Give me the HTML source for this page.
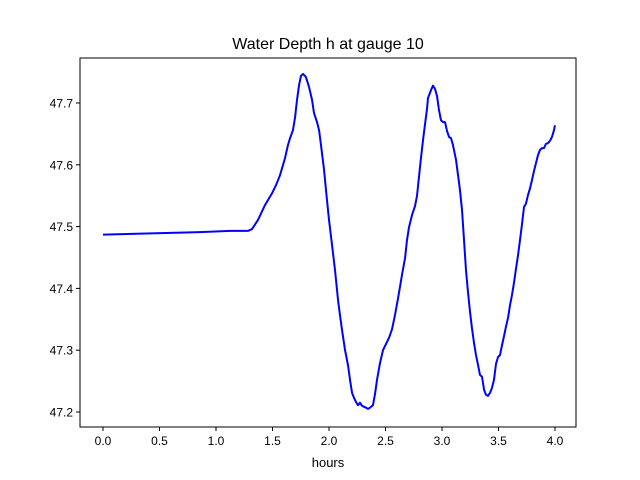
<!DOCTYPE html>
<html><head><meta charset="utf-8"><style>
body{margin:0;background:#fff}
svg{display:block;font-family:"Liberation Sans","DejaVu Sans",sans-serif}
</style></head><body>
<svg id="chart" width="640" height="480" viewBox="0 0 640 480">
<rect x="0" y="0" width="640" height="480" fill="#fff"/>
<text x="328" y="49" text-anchor="middle" font-size="16">Water Depth h at gauge 10</text>
<text x="328" y="467" text-anchor="middle" font-size="13">hours</text>
<g id="plot"></g>
</svg>
<script>
const hours=[0,0.858,1.124,1.283,1.319,1.372,1.434,1.496,1.531,1.566,1.611,1.637,1.655,1.681,1.699,1.717,1.735,1.752,1.770,1.796,1.823,1.850,1.867,1.894,1.912,1.929,1.956,1.982,2.000,2.027,2.053,2.080,2.097,2.115,2.142,2.168,2.186,2.204,2.221,2.239,2.257,2.274,2.292,2.327,2.345,2.363,2.389,2.407,2.425,2.451,2.478,2.504,2.531,2.558,2.584,2.611,2.646,2.673,2.690,2.708,2.735,2.761,2.779,2.796,2.814,2.832,2.850,2.867,2.876,2.903,2.920,2.938,2.956,2.973,2.991,3.009,3.027,3.044,3.062,3.080,3.097,3.124,3.142,3.159,3.177,3.195,3.212,3.230,3.248,3.265,3.283,3.301,3.319,3.336,3.354,3.372,3.389,3.407,3.425,3.442,3.460,3.478,3.496,3.513,3.531,3.549,3.566,3.584,3.602,3.619,3.637,3.655,3.673,3.690,3.708,3.726,3.743,3.761,3.779,3.796,3.814,3.832,3.850,3.867,3.885,3.903,3.920,3.938,3.956,3.973,3.991,4.0];
const depth=[47.487,47.491,47.493,47.493,47.496,47.511,47.535,47.554,47.567,47.583,47.611,47.632,47.643,47.656,47.676,47.705,47.729,47.744,47.747,47.742,47.726,47.705,47.684,47.669,47.656,47.632,47.592,47.543,47.511,47.470,47.430,47.381,47.357,47.333,47.300,47.276,47.252,47.231,47.223,47.216,47.211,47.215,47.210,47.207,47.205,47.207,47.211,47.229,47.252,47.279,47.300,47.310,47.320,47.334,47.357,47.384,47.422,47.449,47.478,47.499,47.519,47.533,47.550,47.580,47.611,47.640,47.666,47.690,47.708,47.721,47.728,47.723,47.711,47.689,47.672,47.669,47.669,47.655,47.645,47.643,47.632,47.608,47.583,47.559,47.527,47.478,47.430,47.394,47.362,47.336,47.312,47.292,47.276,47.260,47.257,47.236,47.228,47.226,47.231,47.239,47.252,47.278,47.289,47.292,47.308,47.323,47.338,47.352,47.373,47.389,47.409,47.432,47.454,47.478,47.504,47.532,47.537,47.551,47.562,47.575,47.590,47.603,47.616,47.624,47.627,47.627,47.634,47.635,47.639,47.645,47.656,47.664];
const xTicks=[0,0.5,1,1.5,2,2.5,3,3.5,4];
const xTickLabels=["0.0","0.5","1.0","1.5","2.0","2.5","3.0","3.5","4.0"];
const yTicks=[47.2,47.3,47.4,47.5,47.6,47.7];
const yTickLabels=["47.2","47.3","47.4","47.5","47.6","47.7"];

const L=80,R=576,T=58,B=427;
const X=v=>103+(v-0)*(452/4);
const Y=v=>412-(v-47.2)*(309/0.5);
const NS="http://www.w3.org/2000/svg";
const g=document.getElementById('plot');
function mk(tag,attrs){const e=document.createElementNS(NS,tag);for(const k in attrs)e.setAttribute(k,attrs[k]);g.appendChild(e);return e;}

let d='';
hours.forEach((h,i)=>{d+=(i?'L':'M')+X(h).toFixed(2)+','+Y(depth[i]).toFixed(2);});
const line=mk('path',{d:d,fill:'none',stroke:'#0000ff','stroke-width':2,'stroke-linejoin':'round'});



const frame=mk('rect',{x:L,y:T,width:R-L,height:B-T,fill:'none',stroke:'#000','stroke-width':1});



xTicks.forEach((t,i)=>{
  const x=X(t);
  const tk=mk('line',{x1:x,x2:x,y1:B,y2:B+4,stroke:'#000'});
  
  
  const lb=mk('text',{x:x,y:B+18,'text-anchor':'middle','font-size':12});
  lb.textContent=xTickLabels[i];
  
  
});
yTicks.forEach((t,i)=>{
  const y=Y(t);
  const tk=mk('line',{x1:L-4,x2:L,y1:y,y2:y,stroke:'#000'});
  
  
  const lb=mk('text',{x:L-7,y:y+4.5,'text-anchor':'end','font-size':12});
  lb.textContent=yTickLabels[i];
  
  
});
</script>
</body></html>
